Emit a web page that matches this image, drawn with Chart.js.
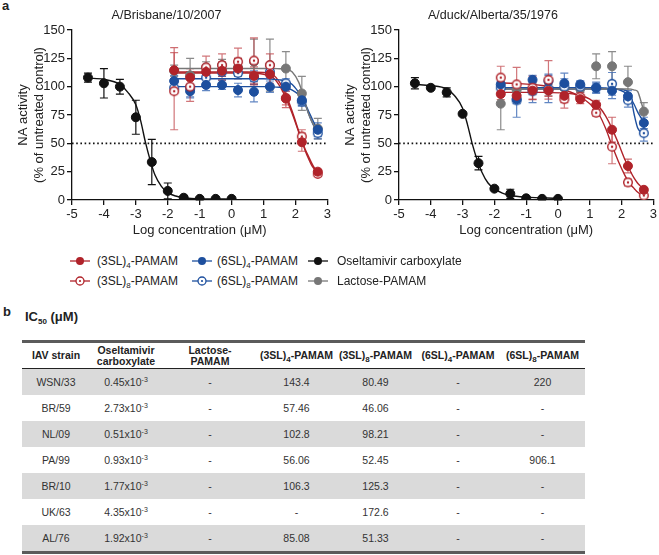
<!DOCTYPE html>
<html>
<head>
<meta charset="utf-8">
<script src="https://cdn.jsdelivr.net/npm/chart.js@4.4.0/dist/chart.umd.min.js"></script>
<style>
  body { margin: 0; background: #fff; font-family: "Liberation Sans", Arial, sans-serif; color: #222; }
  #page { position: relative; width: 659px; height: 555px; overflow: hidden; }
  canvas { position: absolute; top: 0; }
  .panel { position: absolute; font-weight: bold; font-size: 13px; line-height: 14px; }
  .leg { position: absolute; font-size: 12px; white-space: nowrap; height: 16px; line-height: 16px; }
  .leg svg { position: absolute; left: 0; top: 0; }
  .leg span { position: absolute; top: 0; }
  sub { font-size: 8px; vertical-align: -3px; line-height: 0; }
  sup { font-size: 7px; vertical-align: 4px; line-height: 0; }
  #ic50 { position: absolute; left: 25px; top: 309px; font-weight: bold; font-size: 13px; }
  #tbl { position: absolute; left: 22px; top: 340px; width: 563px; border-collapse: collapse; table-layout: fixed; font-size: 10.5px; color: #333; }
  #tbl th { font-weight: bold; font-size: 10.5px; height: 25px; padding: 0; text-align: center; line-height: 11px; color: #222; border-bottom: 1.5px solid #222; white-space: nowrap; }
  #tbl thead tr { border-top: 3px solid #5b5b5b; }
  #tbl td { height: 26px; padding: 0; text-align: center; white-space: nowrap; }
  #tbl tbody tr:nth-child(odd) { background: #dadada; }
  #tbl tbody tr:last-child { border-bottom: 3px solid #5b5b5b; }
</style>
</head>
<body>
<div id="page">
  <div class="panel" style="left:2px; top:-1px;">a</div>
  <canvas id="brisbane" width="333" height="245" style="left:0px;"></canvas>
  <canvas id="alberta" width="332" height="245" style="left:327px;"></canvas>

  <div id="legend"></div>

  <div class="panel" style="left:3px; top:305px;">b</div>
  <div id="ic50">IC<sub>50</sub> (μM)</div>
  <table id="tbl">
    <colgroup>
      <col style="width:68px"><col style="width:72px"><col style="width:96px"><col style="width:77px">
      <col style="width:81px"><col style="width:84px"><col style="width:85px">
    </colgroup>
    <thead>
      <tr>
        <th>IAV strain</th>
        <th>Oseltamivir<br>carboxylate</th>
        <th>Lactose-<br>PAMAM</th>
        <th>(3SL)<sub>4</sub>-PAMAM</th>
        <th>(3SL)<sub>8</sub>-PAMAM</th>
        <th>(6SL)<sub>4</sub>-PAMAM</th>
        <th>(6SL)<sub>8</sub>-PAMAM</th>
      </tr>
    </thead>
    <tbody id="tbody"></tbody>
  </table>
</div>

<script>
// concentrations (log µM)
const oselConc = [-4.5, -4, -3.5, -3, -2.5, -2, -1.5, -1, -0.5, 0];
const pamamConc = [-1.8, -1.3, -0.8, -0.3, 0.2, 0.7, 1.2, 1.7, 2.2, 2.7];
const oselFitX = [-4.5, -4, -3.5, -3.25, -3, -2.85, -2.7, -2.55, -2.4, -2.2, -2, -1.75, -1.5, -1, 0];
const pamamFitX = [-1.8, -0.5, 0.5, 1.0, 1.3, 1.5, 1.7, 1.9, 2.1, 2.2, 2.3, 2.4, 2.5, 2.6, 2.7];

// A/Brisbane/10/2007
const brisOsel = [108, 103, 100, 73, 33.5, 8, 2, 1, 1, 1];
const brisOselErr = [4, 13, 6.5, 15, 20, 7, 1, 1, 0.5, 0.5];
const brisOselFit = [107.5, 106.5, 102, 95, 84, 70, 51, 35, 22, 12, 6.5, 3.5, 2, 1, 0.8];
const bris3SL4 = [114.5, 108, 113, 114, 116, 109.5, 111, 89.5, 51, 25];
const bris3SL4Err = [20, 8, 5, 8, 9, 8, 8, 8, 8, 2];
const bris3SL4Fit = [113, 113, 113, 112.5, 110.5, 104, 93, 78, 61, 53, 45, 39, 33, 28, 25];
const bris3SL8 = [96, 100, 117, 119, 122, 123, 119, 90, 56, 23];
const bris3SL8Err = [34, 13, 10, 10, 12, 20, 10, 6, 6, 2];
const bris3SL8Fit = [112, 112, 112, 111, 108, 101, 90, 76, 60, 52, 44, 37, 31, 27, 23];
const bris6SL4 = [105, 96, 101.5, 101.5, 97, 95.5, 100, 100, 88, 62];
const bris6SL4Err = [5, 6, 5, 4, 6, 9, 5, 4, 5, 6];
const bris6SL4Fit = [100, 100, 100, 100, 99.8, 99.5, 99, 97, 93, 90, 85, 79, 73, 67, 62];
const bris6SL8 = [99, 99, 108, 113, 112, 108, 113, 103, 87, 59];
const bris6SL8Err = [5, 8, 5, 4, 5, 6, 5, 4, 4, 5];
const bris6SL8Fit = [107, 107, 107, 107, 106.5, 106, 105, 102, 95, 91, 85, 77, 70, 64, 59];
const brisLac = [114, 110, 117, 119, 117, 122, 119, 116, 94, 63];
const brisLacErr = [5, 15, 5, 5, 8, 20, 23, 15, 15, 9];
const brisLacFit = [116, 116, 116, 116, 116, 115.8, 115.5, 113, 104, 96, 86, 77, 70, 65, 62];

// A/duck/Alberta/35/1976
const albOsel = [103, 99, 95, 76, 32.5, 10, 5.5, 1.5, 1, 1];
const albOselErr = [5, 1, 4, 1, 6, 1, 4, 1, 1, 1];
const albOselFit = [102, 101, 98, 92, 81, 67, 50, 36, 25, 15, 10, 6, 4, 2.5, 1.5];
const alb3SL4 = [93.5, 92, 96.5, 96.5, 92, 89, 84, 62, 30, 9];
const alb3SL4Err = [5, 5, 8, 5, 6, 4, 4, 11, 6, 2];
const alb3SL4Fit = [95, 95, 93.5, 89, 82, 74, 63, 50, 36, 30, 24, 19, 15, 12, 9];
const alb3SL8 = [108, 102, 99, 106, 89, 91, 77, 47, 15.5, 4];
const alb3SL8Err = [10, 15, 10, 17, 8, 4, 3, 15, 3, 1];
const alb3SL8Fit = [103.5, 101, 94, 85, 75, 63, 48, 34, 22, 17, 13, 10, 7, 5, 4];
const alb6SL4 = [102, 89, 106, 105, 103, 102, 99, 96.5, 91.5, 68];
const alb6SL4Err = [3, 4, 4, 6, 4, 3, 4, 7, 5, 5];
const alb6SL4Fit = [99, 99, 99, 99, 99, 98.8, 98.5, 97.5, 95, 93, 89, 84, 78, 73, 68];
const alb6SL8 = [99, 88, 96, 98, 100, 100, 99, 102.5, 88, 59];
const alb6SL8Err = [5, 15, 10, 12, 12, 5, 5, 10, 6, 7];
const alb6SL8Fit = [98, 98, 98, 98, 98, 98, 98, 97.8, 97, 95, 89, 75, 64, 60, 59];
const albLac = [85, 97, 98, 97, 99, 98, 118, 118, 104, 78];
const albLacErr = [23, 5, 5, 5, 5, 5, 11, 13, 14, 8];
const albLacFit = [98, 98, 98, 98, 98, 98, 98, 98, 98, 98, 97.8, 97, 96, 88, 78];

const refLineX = [-5, 3];
const refLineY = [50, 50];

// IC50 table
const strains = ["WSN/33", "BR/59", "NL/09", "PA/99", "BR/10", "UK/63", "AL/76"];
const icOsel = ["0.45", "2.73", "0.51", "0.93", "1.77", "4.35", "1.92"];
const icLac = ["-", "-", "-", "-", "-", "-", "-"];
const ic3SL4 = ["143.4", "57.46", "102.8", "56.06", "106.3", "-", "85.08"];
const ic3SL8 = ["80.49", "46.06", "98.21", "52.45", "125.3", "172.6", "51.33"];
const ic6SL4 = ["-", "-", "-", "-", "-", "-", "-"];
const ic6SL8 = ["220", "-", "-", "906.1", "-", "-", "-"];

const RED = "#b0232a", BLUE = "#1d4f9e", GRAY = "#777777", BLACK = "#111111";

Chart.defaults.font.family = "'Liberation Sans', Arial, sans-serif";
Chart.defaults.color = "#222";

function ringMarker(color) {
	const c = document.createElement("canvas");
	c.width = 12; c.height = 12;
	const g = c.getContext("2d");
	g.fillStyle = "#fff";
	g.strokeStyle = color;
	g.lineWidth = 1.4;
	g.beginPath(); g.arc(6, 6, 4.3, 0, Math.PI * 2); g.fill(); g.stroke();
	g.fillStyle = color;
	g.beginPath(); g.arc(6, 6, 1.2, 0, Math.PI * 2); g.fill();
	return c;
}

const zip = (xs, ys) => xs.map((x, i) => ({ x: x, y: ys[i] }));

const errorBars = {
	id: "errorBars",
	beforeDatasetsDraw(chart) {
		const { ctx, scales: { x, y } } = chart;
		chart.data.datasets.forEach((ds) => {
			if (!ds.errors) return;
			ctx.save();
			ctx.strokeStyle = ds.errColor;
			ctx.lineWidth = 1.2;
			ds.data.forEach((p, i) => {
				const e = ds.errors[i];
				const px = x.getPixelForValue(p.x);
				const top = y.getPixelForValue(Math.min(p.y + e, 150));
				const bot = y.getPixelForValue(Math.max(p.y - e, 0));
				ctx.beginPath();
				ctx.moveTo(px, top); ctx.lineTo(px, bot);
				ctx.moveTo(px - 4, top); ctx.lineTo(px + 4, top);
				ctx.moveTo(px - 4, bot); ctx.lineTo(px + 4, bot);
				ctx.stroke();
			});
			ctx.restore();
		});
	},
};

function pointSet(xs, ys, errs, color, open, errColor, order) {
	return {
		type: "scatter",
		data: zip(xs, ys),
		errors: errs,
		errColor: errColor,
		pointStyle: open ? ringMarker(color) : "circle",
		pointRadius: 4.5,
		backgroundColor: color,
		borderColor: color,
		borderWidth: 1,
		order: order,
	};
}

function fitSet(xs, ys, color, order) {
	return {
		type: "line",
		data: zip(xs, ys),
		borderColor: color,
		borderWidth: 1.4,
		pointRadius: 0,
		cubicInterpolationMode: "monotone",
		fill: false,
		order: order,
	};
}

function axisCommon() {
	return {
		grid: { display: true, drawOnChartArea: false, drawTicks: true, tickLength: 5, color: BLACK, lineWidth: 1.3 },
		border: { color: BLACK, width: 1.3 },
	};
}

function makeChart(id, title, s) {
	const datasets = [
		{
			type: "line",
			data: zip(refLineX, refLineY),
			borderColor: BLACK,
			borderWidth: 1.6,
			borderDash: [1.6, 2.6],
			pointRadius: 0,
			order: 30,
		},
		fitSet(oselFitX, s.oselFit, BLACK, 20),
		fitSet(pamamFitX, s.lacFit, GRAY, 20),
		fitSet(pamamFitX, s.b8Fit, BLUE, 20),
		fitSet(pamamFitX, s.b4Fit, BLUE, 20),
		fitSet(pamamFitX, s.r8Fit, RED, 20),
		fitSet(pamamFitX, s.r4Fit, RED, 20),
		pointSet(oselConc, s.osel, s.oselErr, BLACK, false, BLACK, 1),
		pointSet(pamamConc, s.lac, s.lacErr, GRAY, false, "rgba(119,119,119,0.85)", 8),
		pointSet(pamamConc, s.b8, s.b8Err, BLUE, true, "rgba(45,95,175,0.75)", 6),
		pointSet(pamamConc, s.b4, s.b4Err, BLUE, false, "rgba(45,95,175,0.75)", 5),
		pointSet(pamamConc, s.r8, s.r8Err, RED, true, "rgba(190,60,65,0.7)", 4),
		pointSet(pamamConc, s.r4, s.r4Err, RED, false, "rgba(190,60,65,0.75)", 3),
	];

	const xAxis = Object.assign(axisCommon(), {
		type: "linear",
		min: -5,
		max: 3,
		ticks: { stepSize: 1, font: { size: 13 }, color: "#222", padding: 2 },
		title: { display: true, text: "Log concentration (μM)", font: { size: 13 }, color: "#222", padding: { top: 2, bottom: 7 } },
		afterFit(scale) { scale.height = 45; },
	});
	const yAxis = Object.assign(axisCommon(), {
		type: "linear",
		min: 0,
		max: 150,
		ticks: { stepSize: 25, font: { size: 13 }, color: "#222", padding: 2 },
		title: {
			display: true,
			text: ["NA activity", "(% of untreated control)"],
			font: { size: 13, lineHeight: 1.2 },
			color: "#222",
			padding: { top: 16, bottom: 0 },
		},
		afterFit(scale) { scale.width = 72; },
	});

	return new Chart(document.getElementById(id).getContext("2d"), {
		type: "scatter",
		data: { datasets },
		options: {
			responsive: false,
			animation: false,
			layout: { padding: 0 },
			plugins: {
				legend: { display: false },
				tooltip: { enabled: false },
				title: {
					display: true,
					text: title,
					font: { size: 12.5, weight: "normal" },
					color: "#222",
					padding: { top: 8, bottom: 7 },
				},
			},
			scales: { x: xAxis, y: yAxis },
		},
		plugins: [errorBars],
	});
}

makeChart("brisbane", "A/Brisbane/10/2007", {
	osel: brisOsel, oselErr: brisOselErr, oselFit: brisOselFit,
	r4: bris3SL4, r4Err: bris3SL4Err, r4Fit: bris3SL4Fit,
	r8: bris3SL8, r8Err: bris3SL8Err, r8Fit: bris3SL8Fit,
	b4: bris6SL4, b4Err: bris6SL4Err, b4Fit: bris6SL4Fit,
	b8: bris6SL8, b8Err: bris6SL8Err, b8Fit: bris6SL8Fit,
	lac: brisLac, lacErr: brisLacErr, lacFit: brisLacFit,
});

makeChart("alberta", "A/duck/Alberta/35/1976", {
	osel: albOsel, oselErr: albOselErr, oselFit: albOselFit,
	r4: alb3SL4, r4Err: alb3SL4Err, r4Fit: alb3SL4Fit,
	r8: alb3SL8, r8Err: alb3SL8Err, r8Fit: alb3SL8Fit,
	b4: alb6SL4, b4Err: alb6SL4Err, b4Fit: alb6SL4Fit,
	b8: alb6SL8, b8Err: alb6SL8Err, b8Fit: alb6SL8Fit,
	lac: albLac, lacErr: albLacErr, lacFit: albLacFit,
});

// legend
const legendItems = [
	{ x: 70, y: 261, color: RED, open: false, text: "(3SL)<sub>4</sub>-PAMAM", gap: 27 },
	{ x: 70, y: 281, color: RED, open: true, text: "(3SL)<sub>8</sub>-PAMAM", gap: 27 },
	{ x: 192, y: 261, color: BLUE, open: false, text: "(6SL)<sub>4</sub>-PAMAM", gap: 25 },
	{ x: 192, y: 281, color: BLUE, open: true, text: "(6SL)<sub>8</sub>-PAMAM", gap: 25 },
	{ x: 308, y: 261, color: BLACK, open: false, text: "Oseltamivir carboxylate", gap: 29 },
	{ x: 308, y: 281, color: GRAY, open: false, text: "Lactose-PAMAM", gap: 29 },
];
const legend = document.getElementById("legend");
legendItems.forEach((it) => {
	const d = document.createElement("div");
	d.className = "leg";
	d.style.left = it.x + "px";
	d.style.top = (it.y - 8) + "px";
	const mark = it.open
		? `<circle cx="10" cy="8" r="4" fill="#fff" stroke="${it.color}" stroke-width="1.3"/><circle cx="10" cy="8" r="1.1" fill="${it.color}"/>`
		: `<circle cx="10" cy="8" r="4" fill="${it.color}"/>`;
	d.innerHTML = `<svg width="22" height="16"><line x1="0" y1="8" x2="20" y2="8" stroke="${it.color}" stroke-width="1.3"/>${mark}</svg><span style="left:${it.gap}px">${it.text}</span>`;
	legend.appendChild(d);
});

// table rows
const tbody = document.getElementById("tbody");
strains.forEach((s, i) => {
	const tr = document.createElement("tr");
	const cells = [s, `${icOsel[i]}x10<sup>-3</sup>`, icLac[i], ic3SL4[i], ic3SL8[i], ic6SL4[i], ic6SL8[i]];
	tr.innerHTML = cells.map((c) => `<td>${c}</td>`).join("");
	tbody.appendChild(tr);
});
</script>
</body>
</html>
